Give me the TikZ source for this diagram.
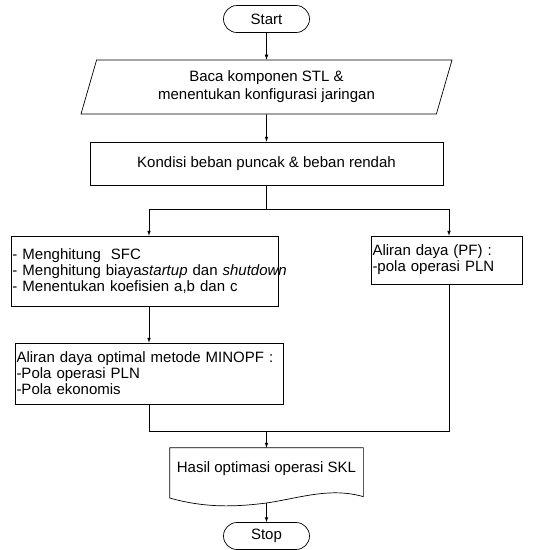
\documentclass[tikz,border=0pt]{standalone}
\usepackage{fontspec}
\setmainfont{Liberation Sans}
\usepackage{tikz}
\usetikzlibrary{arrows, positioning, shapes, shapes.misc, shapes.geometric}

\begin{document}
\begin{tikzpicture}[->,
			>=latex,
			x=1pt, y=-1pt,
			line width=0.7pt,
			font=\fontsize{15}{16}\selectfont,
			terminal/.style={draw, rounded rectangle, minimum width=86pt, minimum height=27pt, inner sep=0pt},
			proc/.style={draw, rectangle, align=left, inner xsep=1.5pt, inner ysep=0pt},
			io/.style={draw, trapezium, trapezium left angle=64, trapezium right angle=116, trapezium stretches body, minimum width=371pt, minimum height=54pt, align=center, inner sep=0pt}]
			\useasboundingbox (0,0) rectangle (545,550);
			\node[terminal] (start) at (266.5,19) {Start};
			\node[io] (read) at (266.5,87) {Baca komponen STL \&\\[2pt] menentukan konfigurasi jaringan};
			\node[proc, minimum width=353pt, minimum height=43pt, align=center] (cond) at (266.5,163.5) {Kondisi beban puncak \& beban rendah};
			\node[proc, text width=264pt, minimum height=70pt] (calc) at (144.5,271) {\mbox{- Menghitung \ SFC}\\\mbox{- Menghitung biaya\textit{startup} dan \textit{shutdown}}\\\mbox{- Menentukan koefisien a,b dan c}\\[-4pt]};
			\node[proc, text width=148pt, minimum height=48pt] (pf) at (446.5,260) {Aliran daya (PF) :\\-pola operasi PLN};
			\node[proc, text width=265pt, minimum height=61pt] (opf) at (149,373.5) {\mbox{Aliran daya optimal metode MINOPF :}\\-Pola operasi PLN\\-Pola ekonomis\\[-4pt]};
			\node[minimum width=193pt, minimum height=42pt, inner sep=0pt] (doc) at (266.5,469) {Hasil optimasi operasi SKL};
			\draw[-] (doc.north west) -- (doc.north east) -- ++(0,49) .. controls (330,487) and (300,498) .. (266.5,503) coordinate (wavemid) .. controls (235,507) and (205,508) .. (doc.south west |- 0,498) -- cycle;
			\node[terminal] (stop) at (266.5,536) {Stop};
			\coordinate (split) at (266.5,209);
			\coordinate (lbr) at (149,209);
			\coordinate (rbr) at (449,209);
			\coordinate (lmg) at (149,431);
			\coordinate (rmg) at (449,431);
			\coordinate (merge) at (266.5,431);
			\draw[->] (start) -- (read);
			\draw[->] (read) -- (cond);
			\draw[-] (cond) -- (split);
			\draw[-] (lbr) -- (rbr);
			\draw[->] (lbr) -- (lbr |- calc.north);
			\draw[->] (rbr) -- (rbr |- pf.north);
			\draw[->] (lbr |- calc.south) -- (lbr |- opf.north);
			\draw[-] (lbr |- opf.south) -- (lmg) -- (rmg) -- (rbr |- pf.south);
			\draw[->] (merge) -- (doc);
			\draw[->] (wavemid) -- (stop);
		\end{tikzpicture}
\end{document}
